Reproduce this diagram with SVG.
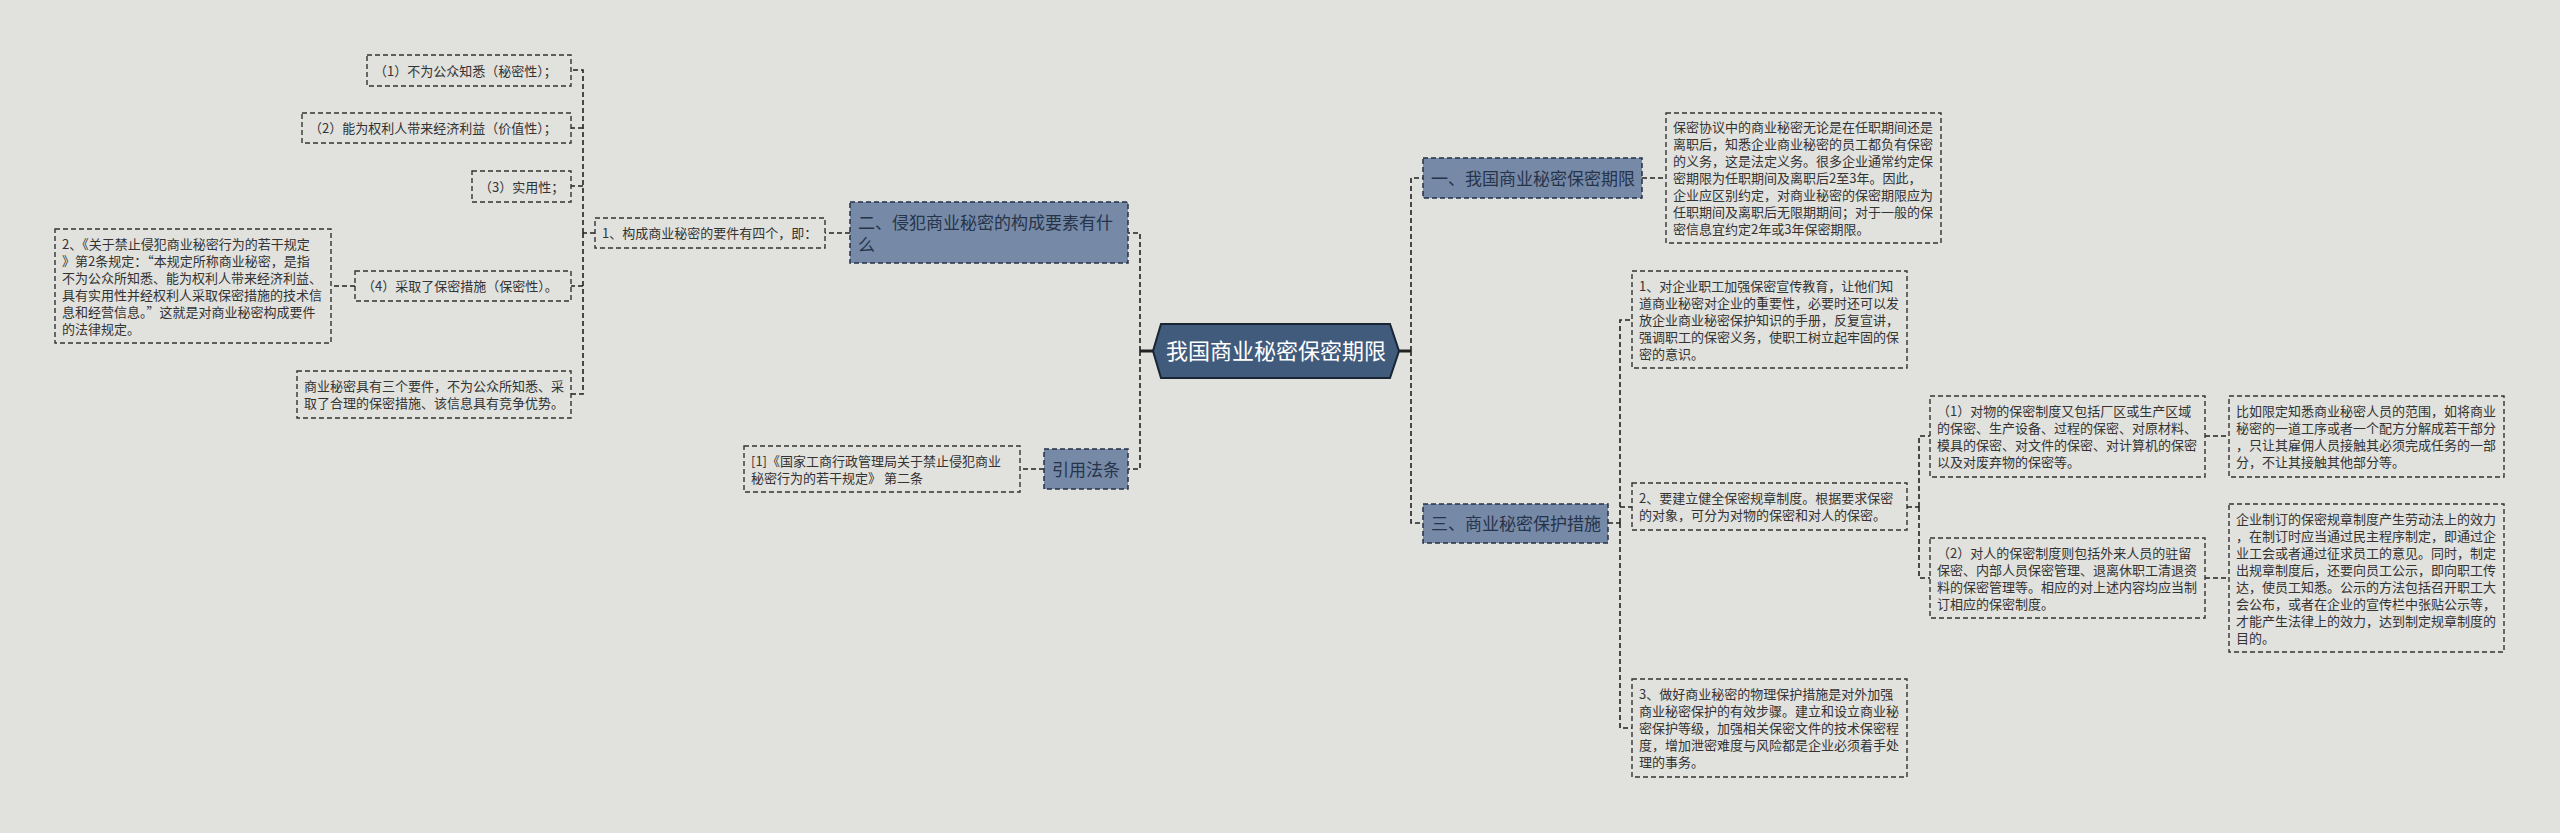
<svg xmlns="http://www.w3.org/2000/svg" width="2560" height="833" viewBox="0 0 2560 833">
<style>
.bg{fill:#e1e1dd}
.leaf rect{fill:#e1e1dd;stroke:#333;stroke-width:1.4;stroke-dasharray:5,3}
.leaf text{font-family:"Noto Sans CJK SC","Liberation Sans",sans-serif;font-size:13px;fill:#333}
.sub rect{fill:#7689a7;stroke:#243246;stroke-width:1.5;stroke-dasharray:5,3}
.sub text{font-family:"Noto Sans CJK SC","Liberation Sans",sans-serif;font-size:17px;fill:#26344a}
.root polygon{fill:#415b7c;stroke:#1a2534;stroke-width:2}
.root text{font-family:"Noto Sans CJK SC","Liberation Sans",sans-serif;font-size:22px;fill:#fff}
.dash{fill:none;stroke:#222;stroke-width:1.6;stroke-dasharray:5,3}
.solid{fill:none;stroke:#222;stroke-width:3}
</style>
<rect class="bg" x="0" y="0" width="2560" height="833"/>
<g id="connectors">
<path class="solid" d="M1153,351 H1140"/>
<path class="solid" d="M1399,351 H1411"/>
<path class="dash" d="M1140,351 V233 H1128"/>
<path class="dash" d="M1140,351 V469 H1128"/>
<path class="dash" d="M1411,351 V178 H1423"/>
<path class="dash" d="M1411,351 V523 H1423"/>
<path class="dash" d="M1642,178 H1666"/>
<path class="dash" d="M1608,523 H1620"/>
<path class="dash" d="M1620,523 V320 H1632"/>
<path class="dash" d="M1620,523 V728 H1632"/>
<path class="dash" d="M1620,507 H1632"/>
<path class="dash" d="M1907,507 H1919"/>
<path class="dash" d="M1919,507 V436 H1930"/>
<path class="dash" d="M1919,507 V578 H1930"/>
<path class="dash" d="M2205,436 H2229"/>
<path class="dash" d="M2205,578 H2229"/>
<path class="dash" d="M850,233 H825"/>
<path class="dash" d="M595,233 H583"/>
<path class="dash" d="M583,233 V70 H571"/>
<path class="dash" d="M583,233 V394 H571"/>
<path class="dash" d="M583,128 H571"/>
<path class="dash" d="M583,186 H571"/>
<path class="dash" d="M583,286 H571"/>
<path class="dash" d="M355,286 H331"/>
<path class="dash" d="M1044,469 H1020"/>
</g>
<g id="root" class="root">
<polygon points="1153,351 1161,324 1390,324 1399,351 1390,378 1161,378"/>
<text x="1276" y="359" text-anchor="middle">我国商业秘密保密期限</text>
</g>
<g id="n1" class="sub">
<rect x="1423" y="158" width="219" height="40"/>
<text x="1431" y="184.5">一、我国商业秘密保密期限</text>
</g>
<g id="n3" class="sub">
<rect x="1423" y="504" width="185" height="39"/>
<text x="1431" y="530">三、商业秘密保护措施</text>
</g>
<g id="n2" class="sub">
<rect x="850" y="202" width="278" height="61"/>
<text x="858" y="229">二、侵犯商业秘密的构成要素有什<tspan x="858" dy="22">么</tspan></text>
</g>
<g id="nref" class="sub">
<rect x="1044" y="449" width="84" height="40"/>
<text x="1052" y="475.5">引用法条</text>
</g>
<g id="l-baomi" class="leaf">
<rect x="1666" y="113" width="275" height="130"/>
<text x="1673" y="132">保密协议中的商业秘密无论是在任职期间还是<tspan x="1673" dy="17">离职后，知悉企业商业秘密的员工都负有保密</tspan><tspan x="1673" dy="17">的义务，这是法定义务。很多企业通常约定保</tspan><tspan x="1673" dy="17">密期限为任职期间及离职后2至3年。因此，</tspan><tspan x="1673" dy="17">企业应区别约定，对商业秘密的保密期限应为</tspan><tspan x="1673" dy="17">任职期间及离职后无限期期间；对于一般的保</tspan><tspan x="1673" dy="17">密信息宜约定2年或3年保密期限。</tspan></text>
</g>
<g id="l-m1" class="leaf">
<rect x="1632" y="271" width="275" height="97"/>
<text x="1639" y="290.5">1、对企业职工加强保密宣传教育，让他们知<tspan x="1639" dy="17">道商业秘密对企业的重要性，必要时还可以发</tspan><tspan x="1639" dy="17">放企业商业秘密保护知识的手册，反复宣讲，</tspan><tspan x="1639" dy="17">强调职工的保密义务，使职工树立起牢固的保</tspan><tspan x="1639" dy="17">密的意识。</tspan></text>
</g>
<g id="l-m2" class="leaf">
<rect x="1632" y="483" width="275" height="47"/>
<text x="1639" y="503">2、要建立健全保密规章制度。根据要求保密<tspan x="1639" dy="17">的对象，可分为对物的保密和对人的保密。</tspan></text>
</g>
<g id="l-wu" class="leaf">
<rect x="1930" y="396" width="275" height="81"/>
<text x="1937" y="416">（1）对物的保密制度又包括厂区或生产区域<tspan x="1937" dy="17">的保密、生产设备、过程的保密、对原材料、</tspan><tspan x="1937" dy="17">模具的保密、对文件的保密、对计算机的保密</tspan><tspan x="1937" dy="17">以及对废弃物的保密等。</tspan></text>
</g>
<g id="l-ren" class="leaf">
<rect x="1930" y="538" width="275" height="80"/>
<text x="1937" y="557.5">（2）对人的保密制度则包括外来人员的驻留<tspan x="1937" dy="17">保密、内部人员保密管理、退离休职工清退资</tspan><tspan x="1937" dy="17">料的保密管理等。相应的对上述内容均应当制</tspan><tspan x="1937" dy="17">订相应的保密制度。</tspan></text>
</g>
<g id="l-biru" class="leaf">
<rect x="2229" y="396" width="275" height="81"/>
<text x="2236" y="416">比如限定知悉商业秘密人员的范围，如将商业<tspan x="2236" dy="17">秘密的一道工序或者一个配方分解成若干部分</tspan><tspan x="2236" dy="17">，只让其雇佣人员接触其必须完成任务的一部</tspan><tspan x="2236" dy="17">分，不让其接触其他部分等。</tspan></text>
</g>
<g id="l-qiye" class="leaf">
<rect x="2229" y="504" width="275" height="148"/>
<text x="2236" y="523.5">企业制订的保密规章制度产生劳动法上的效力<tspan x="2236" dy="17">，在制订时应当通过民主程序制定，即通过企</tspan><tspan x="2236" dy="17">业工会或者通过征求员工的意见。同时，制定</tspan><tspan x="2236" dy="17">出规章制度后，还要向员工公示，即向职工传</tspan><tspan x="2236" dy="17">达，使员工知悉。公示的方法包括召开职工大</tspan><tspan x="2236" dy="17">会公布，或者在企业的宣传栏中张贴公示等，</tspan><tspan x="2236" dy="17">才能产生法律上的效力，达到制定规章制度的</tspan><tspan x="2236" dy="17">目的。</tspan></text>
</g>
<g id="l-m3" class="leaf">
<rect x="1632" y="679" width="275" height="98"/>
<text x="1639" y="699">3、做好商业秘密的物理保护措施是对外加强<tspan x="1639" dy="17">商业秘密保护的有效步骤。建立和设立商业秘</tspan><tspan x="1639" dy="17">密保护等级，加强相关保密文件的技术保密程</tspan><tspan x="1639" dy="17">度，增加泄密难度与风险都是企业必须着手处</tspan><tspan x="1639" dy="17">理的事务。</tspan></text>
</g>
<g id="l-gc" class="leaf">
<rect x="595" y="218" width="230" height="30"/>
<text x="602" y="237.5">1、构成商业秘密的要件有四个，即：</text>
</g>
<g id="l-1" class="leaf">
<rect x="367" y="55" width="204" height="31"/>
<text x="374" y="75.5">（1）不为公众知悉（秘密性）；</text>
</g>
<g id="l-2" class="leaf">
<rect x="302" y="113" width="269" height="30"/>
<text x="309" y="133">（2）能为权利人带来经济利益（价值性）；</text>
</g>
<g id="l-3" class="leaf">
<rect x="472" y="171" width="99" height="31"/>
<text x="479" y="191.5">（3）实用性；</text>
</g>
<g id="l-4" class="leaf">
<rect x="355" y="271" width="216" height="30"/>
<text x="362" y="290.5">（4）采取了保密措施（保密性）。</text>
</g>
<g id="l-gd" class="leaf">
<rect x="55" y="229" width="276" height="114"/>
<text x="62" y="248.5">2、《关于禁止侵犯商业秘密行为的若干规定<tspan x="62" dy="17">》第2条规定：“本规定所称商业秘密，是指</tspan><tspan x="62" dy="17">不为公众所知悉、能为权利人带来经济利益、</tspan><tspan x="62" dy="17">具有实用性并经权利人采取保密措施的技术信</tspan><tspan x="62" dy="17">息和经营信息。”这就是对商业秘密构成要件</tspan><tspan x="62" dy="17">的法律规定。</tspan></text>
</g>
<g id="l-san" class="leaf">
<rect x="297" y="371" width="274" height="47"/>
<text x="304" y="391">商业秘密具有三个要件，不为公众所知悉、采<tspan x="304" dy="17">取了合理的保密措施、该信息具有竞争优势。</tspan></text>
</g>
<g id="l-ref" class="leaf">
<rect x="744" y="446" width="276" height="46"/>
<text x="751" y="465.5">[1]《国家工商行政管理局关于禁止侵犯商业<tspan x="751" dy="17">秘密行为的若干规定》 第二条</tspan></text>
</g>
</svg>
